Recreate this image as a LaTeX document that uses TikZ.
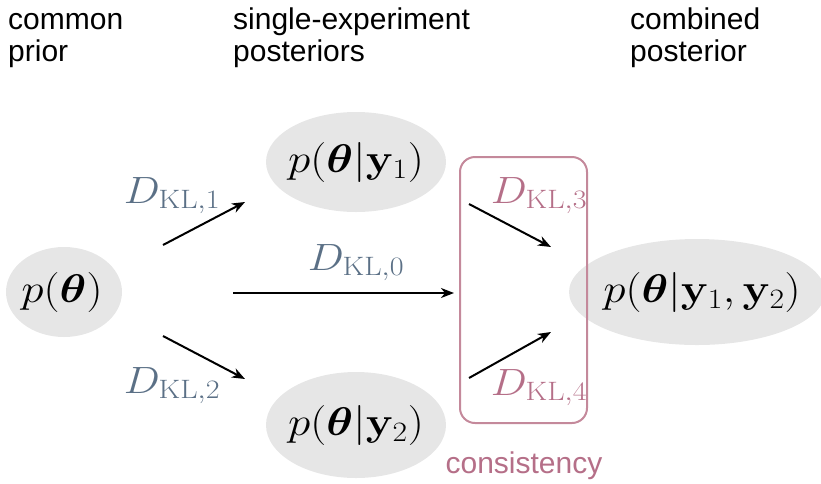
\RequirePackage{fix-cm}
\documentclass[tikz,border=0pt]{standalone}
\usepackage{amsmath,amsbsy,graphicx}
\usepackage[no-math]{fontspec}
\setmainfont{Liberation Sans}
\usetikzlibrary{shapes.geometric,arrows.meta}
\definecolor{ellgrey}{HTML}{E6E6E6}
\definecolor{slate}{HTML}{5B7086}
\definecolor{rose}{HTML}{B56F88}
\definecolor{roseline}{HTML}{C4899B}
\newcommand{\wide}[1]{\scalebox{1.13}[1]{#1}}
\tikzset{
  dist/.style={ellipse, fill=ellgrey, inner sep=0pt},
  distlabel/.style={inner sep=0pt, font=\fontsize{40}{48}\selectfont},
  head/.style={anchor=base west, align=left, font=\fontsize{30}{32}\selectfont, inner sep=0pt},
  kl/.style={text=slate, inner sep=0pt, anchor=base, font=\fontsize{38}{44}\selectfont},
  klp/.style={text=rose, inner sep=0pt, anchor=base, font=\fontsize{38}{44}\selectfont},
  arr/.style={-{Stealth[length=13pt,width=10pt,inset=4pt]}, line width=2pt, black},
}
\begin{document}
\begin{tikzpicture}[x=1pt,y=-1pt]
\useasboundingbox (0,0) rectangle (821,483);
% headings
\node[head] (h1a) at (8,29) {common};
\node[head] (h1b) at (8,61) {prior};
\node[head] (h2a) at (233,29) {single-experiment};
\node[head] (h2b) at (233,61) {posteriors};
\node[head] (h3a) at (630,29) {combined};
\node[head] (h3b) at (630,61) {posterior};
% distributions
\node[dist, minimum width=116pt, minimum height=90pt] (prior) at (64,292) {};
\node[dist, minimum width=180pt, minimum height=100pt] (post1) at (356,162) {};
\node[dist, minimum width=180pt, minimum height=106pt] (post2) at (356,425) {};
\node[dist, minimum width=256pt, minimum height=106pt] (comb) at (697,292) {};
\node[distlabel] (tprior) at ([xshift=-2pt]prior.center) {\wide{$p(\boldsymbol{\theta})$}};
\node[distlabel] (tpost1) at (post1.center) {\wide{$p(\boldsymbol{\theta}|\mathbf{y}_1)$}};
\node[distlabel] (tpost2) at (post2.center) {\wide{$p(\boldsymbol{\theta}|\mathbf{y}_2)$}};
\node[distlabel] (tcomb) at ([xshift=5pt]comb.center) {\wide{$p(\boldsymbol{\theta}|\mathbf{y}_1,\mathbf{y}_2)$}};
% consistency box
\node[draw=roseline, line width=2pt, rounded corners=15pt, minimum width=127pt, minimum height=266pt, inner sep=0pt] (box) at (523.5,290) {};
\node[text=rose, font=\fontsize{30}{32}\selectfont, anchor=base, inner sep=0pt] (cons) at (524,473) {consistency};
% arrow end points
\coordinate (a1s) at (163,245); \coordinate (a1e) at (245,202);
\coordinate (a0s) at (233,293); \coordinate (a0e) at (454,293);
\coordinate (a2s) at (163,336); \coordinate (a2e) at (245,379);
\coordinate (a3s) at (469,204); \coordinate (a3e) at (551,247);
\coordinate (a4s) at (469,378); \coordinate (a4e) at (551,332);
\draw[arr] (a1s) -- (a1e);
\draw[arr] (a0s) -- (a0e);
\draw[arr] (a2s) -- (a2e);
\draw[arr] (a3s) -- (a3e);
\draw[arr] (a4s) -- (a4e);
% labels
\node[kl] (k1) at (172,203) {\wide{$D_{\mathrm{KL},1}$}};
\node[kl] (k0) at (356,270) {\wide{$D_{\mathrm{KL},0}$}};
\node[kl] (k2) at (172,393) {\wide{$D_{\mathrm{KL},2}$}};
\node[klp] (k3) at (539,203) {\wide{$D_{\mathrm{KL},3}$}};
\node[klp] (k4) at (539,395) {\wide{$D_{\mathrm{KL},4}$}};
\end{tikzpicture}
\end{document}
